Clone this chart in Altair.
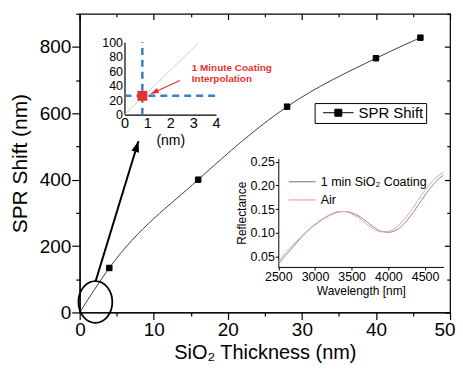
import altair as alt
import pandas as pd

FONT = "Liberation Sans"
RED = "#e8312f"
BLUE = "#3b7dc4"
GRAY2 = "#8a8a8a"
PINK = "#f2a0a0"

# ---------------- main plot data ----------------
thickness = [4, 16, 28, 40, 46]
spr_shift = [134, 400, 620, 766, 828]
fit_thickness = [0, 4, 16, 28, 40, 46]
fit_shift = [0, 134, 400, 620, 766, 828]
main_series = ["SPR Shift"]

x_major = [0, 10, 20, 30, 40, 50]
x_minor = [5, 15, 25, 35, 45]
y_major = [0, 200, 400, 600, 800]
y_minor = [100, 300, 500, 700, 900]

ellipse_x = [2.12]
ellipse_y = [31.5]
arrow_x = [2.15]
arrow_y = [94]
arrow_x2 = [7.93]
arrow_y2 = [516]

# ---------------- inset 1 data ----------------
ins1_line_x = [0, 3.2]
ins1_line_y = [0, 98]
interp_x = [0.78]
interp_y = [26]
ins1_x_ticks = [0, 1, 2, 3, 4]
ins1_y_ticks = [0, 20, 40, 60, 80, 100]
note_lines = ["1 Minute Coating", "Interpolation"]
note_x = [2.94, 2.94]
note_y = [64, 49.6]
red_arrow_x = [2.42]
red_arrow_y = [47.2]
red_arrow_x2 = [1.16]
red_arrow_y2 = [28.9]

# ---------------- inset 2 data ----------------
wavelength = [2500, 2600, 2700, 2800, 2900, 3000, 3100, 3200, 3300, 3400, 3500, 3600,
              3700, 3800, 3900, 4000, 4100, 4200, 4300, 4400, 4500, 4600, 4700, 4750]
refl_coating = [0.034, 0.052, 0.070, 0.088, 0.104, 0.117, 0.128, 0.137, 0.143, 0.145, 0.142, 0.135,
                0.124, 0.112, 0.103, 0.101, 0.105, 0.117, 0.135, 0.157, 0.180, 0.200, 0.216, 0.222]
refl_air = [0.038, 0.058, 0.074, 0.090, 0.105, 0.118, 0.129, 0.138, 0.144, 0.145, 0.140, 0.131,
            0.119, 0.108, 0.102, 0.103, 0.110, 0.125, 0.145, 0.168, 0.190, 0.209, 0.223, 0.228]
series2 = ["1 min SiO\u2082 Coating", "Air"]
wl_ticks = [2500, 3000, 3500, 4000, 4500]
refl_ticks = [0.05, 0.10, 0.15, 0.20, 0.25]

# ---------------- frames ----------------
df_fit = pd.DataFrame({"x": fit_thickness, "y": fit_shift})
df_pts = pd.DataFrame({"x": thickness, "y": spr_shift, "series": main_series * len(thickness)})
df_ell = pd.DataFrame({"x": ellipse_x, "y": ellipse_y})
df_arrow = pd.DataFrame({"x": arrow_x, "y": arrow_y, "x2": arrow_x2, "y2": arrow_y2})
df_arrow_head = pd.DataFrame({"x": arrow_x2, "y": arrow_y2})

df_i1_line = pd.DataFrame({"x": ins1_line_x, "y": ins1_line_y})
df_i1_v = pd.DataFrame({"x": interp_x, "y": [ins1_y_ticks[0]], "y2": [ins1_y_ticks[-1]]})
df_i1_h = pd.DataFrame({"x": [ins1_x_ticks[0]], "x2": [ins1_x_ticks[-1]], "y": interp_y})
df_i1_pt = pd.DataFrame({"x": interp_x, "y": interp_y})
df_note = pd.DataFrame({"x": note_x, "y": note_y, "t": note_lines})
df_rarrow = pd.DataFrame({"x": red_arrow_x, "y": red_arrow_y, "x2": red_arrow_x2, "y2": red_arrow_y2})
df_rarrow_head = pd.DataFrame({"x": red_arrow_x2, "y": red_arrow_y2})

rows = []
for w, c, a in zip(wavelength, refl_coating, refl_air):
    rows.append({"wl": w, "r": c, "series": series2[0]})
    rows.append({"wl": w, "r": a, "series": series2[1]})
df_refl = pd.DataFrame(rows)

ELLIPSE = "M-0.81,0A0.81,1,0,1,1,0.81,0A0.81,1,0,1,1,-0.81,0Z"
ARROW = "M0,0L-0.4,1.1L0.4,1.1Z"

# ---------------- main layer ----------------
XS = alt.Scale(domain=[0, 50], nice=False, zero=False)
YS = alt.Scale(domain=[0, 900], nice=False, zero=False)

AX_X = alt.Axis(orient="bottom", values=x_major, tickSize=7, tickWidth=1.2, domainWidth=1.2,
                labelPadding=1, labelFontSize=19, labelFlush=True, labelFlushOffset=5,
                title="SiO\u2082 Thickness (nm)", titleFontSize=20, titlePadding=3)
AX_Y = alt.Axis(orient="left", values=y_major, tickSize=8, tickWidth=1.2, domainWidth=1.2,
                labelPadding=1, labelFontSize=19,
                title="SPR Shift (nm)", titleFontSize=21, titlePadding=9)


def mx(field="x"):
    return alt.X(f"{field}:Q", scale=XS, axis=AX_X)


def my(field="y"):
    return alt.Y(f"{field}:Q", scale=YS, axis=AX_Y)


line_main = alt.Chart(df_fit).mark_line(color="#404040", strokeWidth=1, interpolate="monotone").encode(
    x=mx(), y=my())
points = alt.Chart(df_pts).mark_point(shape="square", filled=True, size=30, opacity=1,
                                      stroke="black", strokeWidth=1).encode(
    x=mx(), y=my(),
    color=alt.Color("series:N", scale=alt.Scale(domain=main_series, range=["black"]),
                    legend=alt.Legend(orient="none", legendX=236, legendY=89.7, title=None,
                                      padding=2.2, strokeColor="black", fillColor="white",
                                      symbolType="M-2.2,0H2.2M-0.5,-0.5H0.5V0.5H-0.5Z",
                                      symbolSize=196, symbolStrokeWidth=1,
                                      symbolStrokeColor="black", symbolFillColor="black",
                                      symbolOpacity=1, symbolOffset=14.1, labelOffset=12.8,
                                      labelFont=FONT, labelFontSize=15, labelColor="black")),
)
ellipse = alt.Chart(df_ell).mark_point(shape=ELLIPSE, size=1764, filled=False, color="black",
                                       strokeWidth=1.8, opacity=1).encode(x=mx(), y=my())
arrow = alt.Chart(df_arrow).mark_rule(color="black", strokeWidth=2).encode(
    x=mx(), y=my(), x2="x2:Q", y2="y2:Q")
arrow_head = alt.Chart(df_arrow_head).mark_point(shape=ARROW, size=400, filled=True, color="black",
                                                 opacity=1, angle=16.8, strokeWidth=0).encode(x=mx(), y=my())

main = alt.layer(line_main, points, ellipse, arrow, arrow_head)


def axis_layer(xaxis, yaxis):
    return alt.Chart(df_pts).mark_point(opacity=0).encode(
        x=alt.X("x:Q", scale=XS, axis=xaxis), y=alt.Y("y:Q", scale=YS, axis=yaxis))


minor_axes = axis_layer(
    alt.Axis(orient="bottom", values=x_minor, tickSize=3.5, tickWidth=1.2, labels=False, domain=False, title=None),
    alt.Axis(orient="left", values=y_minor, tickSize=4, tickWidth=1.2, labels=False, domain=False, title=None))
inner_major = axis_layer(
    alt.Axis(orient="top", offset=-5.7, values=x_major, tickSize=5.7, tickWidth=1.2, labels=False, domain=False, title=None),
    alt.Axis(orient="right", offset=-5.7, values=y_major, tickSize=5.7, tickWidth=1.2, labels=False, domain=False, title=None))
inner_minor = axis_layer(
    alt.Axis(orient="top", offset=-3, values=x_minor, tickSize=3, tickWidth=1.2, labels=False, domain=False, title=None),
    alt.Axis(orient="right", offset=-3.3, values=y_minor, tickSize=3.3, tickWidth=1.2, labels=False, domain=False, title=None))

# ---------------- inset 1 ----------------
XS1 = alt.Scale(domain=[0, 4], range=[45, 137], nice=False, zero=False)
YS1 = alt.Scale(domain=[0, 100], range=[101.3, 28.7], nice=False, zero=False)
AX1_X = alt.Axis(orient="bottom", offset=-198.7, values=ins1_x_ticks, ticks=False,
                 labelPadding=2, labelFontSize=14.5, labelFlush=False,
                 domainWidth=1.2, title="(nm)", titleFontSize=14, titlePadding=4)
AX1_Y = alt.Axis(orient="left", offset=-45, values=ins1_y_ticks, ticks=False,
                 labelPadding=2, labelFontSize=12.5, labelOverlap=False,
                 domainWidth=1.2, title=None)


def ix():
    return alt.X("x:Q", scale=XS1, axis=AX1_X)


def iy():
    return alt.Y("y:Q", scale=YS1, axis=AX1_Y)


i1_line = alt.Chart(df_i1_line).mark_line(color="#cfcfcf", strokeWidth=1).encode(x=ix(), y=iy())
i1_v = alt.Chart(df_i1_v).mark_rule(color=BLUE, strokeWidth=2.5, strokeDash=[7, 5]).encode(
    x=ix(), y=iy(), y2="y2:Q")
i1_h = alt.Chart(df_i1_h).mark_rule(color=BLUE, strokeWidth=2.5, strokeDash=[7, 5]).encode(
    x=ix(), x2="x2:Q", y=iy())
i1_pt = alt.Chart(df_i1_pt).mark_point(shape="square", filled=True, size=100, color=RED, opacity=1).encode(
    x=ix(), y=iy())
i1_note = alt.Chart(df_note).mark_text(align="left", baseline="middle", font=FONT, fontSize=10,
                                       fontWeight="bold", color=RED).encode(x=ix(), y=iy(), text="t:N")
i1_arrow = alt.Chart(df_rarrow).mark_rule(color=RED, strokeWidth=1.2).encode(
    x=ix(), y=iy(), x2="x2:Q", y2="y2:Q")
i1_head = alt.Chart(df_rarrow_head).mark_point(shape=ARROW, size=196, filled=True, color=RED, opacity=1,
                                               angle=245.6, strokeWidth=0).encode(x=ix(), y=iy())

inset1 = alt.layer(i1_line, i1_v, i1_h, i1_arrow, i1_head, i1_pt, i1_note)

# ---------------- inset 2 ----------------
XS2 = alt.Scale(domain=[2500, 4750], range=[199.5, 365.4], nice=False, zero=False)
YS2 = alt.Scale(domain=[0.0277, 0.257], range=[254.3, 145.4], nice=False, zero=False)

inset2 = alt.Chart(df_refl).mark_line(strokeWidth=1, interpolate="monotone").encode(
    x=alt.X("wl:Q", scale=XS2, axis=alt.Axis(orient="bottom", offset=-45.7, values=wl_ticks, format="d",
                                               tickSize=3, tickWidth=1, domainWidth=1, labelPadding=0.5,
                                               labelFontSize=12.5, labelFlush=False,
                                               title="Wavelength [nm]", titleFontSize=12, titlePadding=3)),
    y=alt.Y("r:Q", scale=YS2, axis=alt.Axis(orient="left", offset=-199.5, values=refl_ticks, format=".2f",
                                              tickSize=3, tickWidth=1, domainWidth=1, labelPadding=1,
                                              labelFontSize=12.5, title="Reflectance", titleFontSize=12,
                                              titlePadding=2)),
    color=alt.Color("series:N", scale=alt.Scale(domain=series2, range=[GRAY2, PINK]),
                    legend=alt.Legend(orient="none", legendX=210, legendY=161.7, title=None, padding=0,
                                      symbolType="M-2.25,0H2.25", symbolSize=144, symbolStrokeWidth=1.2,
                                      symbolOffset=6.5, labelOffset=11.7, rowPadding=4.3,
                                      labelFont=FONT, labelFontSize=12.5, labelColor="black")),
)

chart = alt.layer(main, minor_axes, inner_major, inner_minor, inset1, inset2).resolve_scale(
    x="independent", y="independent", color="independent"
).resolve_legend(color="independent").properties(
    width=372, height=300,
    padding={"left": 72, "top": 5, "right": 5, "bottom": 50},
    autosize=alt.AutoSizeParams(type="none"),
).configure_view(stroke="black", strokeWidth=1.2).configure_axis(
    labelFont=FONT, titleFont=FONT, labelColor="black", titleColor="black", domainColor="black",
    tickColor="black", grid=False, titleFontWeight="normal"
)

chart.save("out.html", embed_options={"renderer": "svg", "actions": False})
